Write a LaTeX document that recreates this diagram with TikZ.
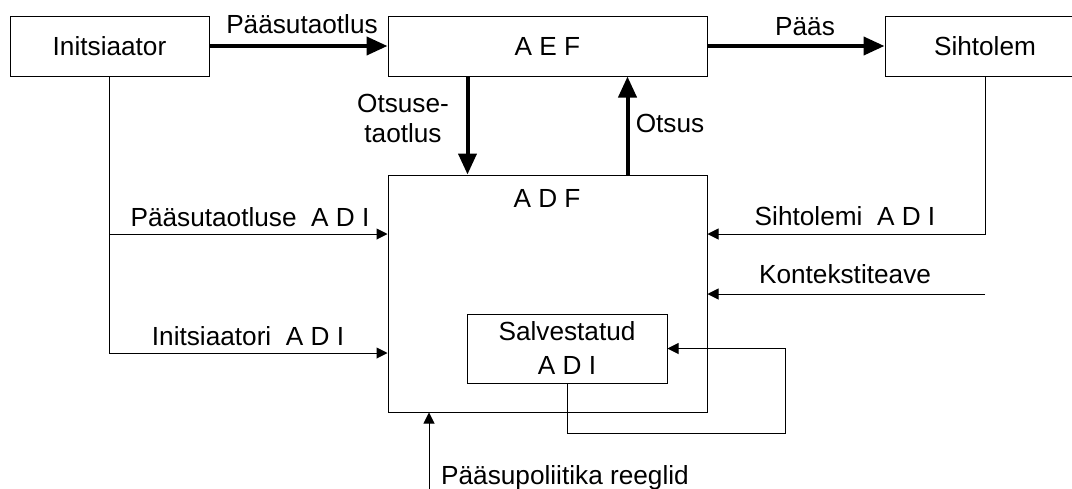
\documentclass[tikz,border=0pt]{standalone}
\usepackage{fontspec}
\setmainfont{Liberation Sans}
\usetikzlibrary{arrows.meta,calc}

\begin{document}
\begin{tikzpicture}[x=1pt,y=-1pt,
  every node/.style={font=\fontsize{26.2}{30}\selectfont},
  box/.style={draw, line width=1pt, inner sep=0pt},
  lbl/.style={inner sep=0pt, anchor=base},
  flow/.style={line width=4pt, -{Triangle[length=21pt,width=18pt]}},
  info/.style={line width=1pt, -{Triangle[length=11pt,width=11pt]}}]

\clip (0,0) rectangle (1072,488);
\fill[white] (0,0) rectangle (1072,488);

% main blocks
\node[box, minimum width=199pt, minimum height=60pt] (ini)  at (109.5,46) {Initsiaator};
\node[box, minimum width=319pt, minimum height=60pt] (aef)  at (547.5,46) {A E F};
\node[box, minimum width=200pt, minimum height=60pt] (siht) at (985,46)   {Sihtolem};
\node[box, minimum width=319pt, minimum height=237pt] (adf) at (547.5,293.5) {};
\node[lbl] (adft) at (547,207) {A D F};
\node[box, minimum width=200pt, minimum height=69pt, align=center,
      font=\fontsize{26.2}{34}\selectfont] (salv) at (567,348.5) {Salvestatud\\A D I};

% helper rows
\coordinate (ya)  at (0,234);
\coordinate (yb)  at (0,353);
\coordinate (ctx) at (985,294);
\coordinate (fb)  at (785,433);
\coordinate (pol) at (429,492);

% main access flow
\draw[flow] (ini.east) -- (aef.west);
\draw[flow] (aef.east) -- (siht.west);
\draw[flow] ($(aef.south west)!0.25!(aef.south east)$) -- ($(adf.north west)!0.25!(adf.north east)$);
\draw[flow] ($(adf.north west)!0.75!(adf.north east)$) -- ($(aef.south west)!0.75!(aef.south east)$);

% access decision information
\draw[info] (ini.south) |- (adf.west |- yb);
\draw[info] (ini.south |- ya) -- (adf.west |- ya);
\draw[info] (siht.south) |- (adf.east |- ya);
\draw[info] (ctx) -- (adf.east |- ctx);
\draw[info] (salv.south) |- (fb) |- (salv.east);
\draw[info] (pol) -- (adf.south -| pol);

% labels
\node[lbl] (l1) at (302,33) {Pääsutaotlus};
\node[lbl] (l2) at (805,35) {Pääs};
\node[align=center, inner sep=0pt] (l3) at (403,118) {Otsuse-\\taotlus};
\node[lbl] (l4) at (670,132) {Otsus};
\node[lbl] (l5) at (250,226) {Pääsutaotluse\ \ A D I};
\node[lbl] (l6) at (248,345) {Initsiaatori\ \ A D I};
\node[lbl] (l7) at (845,225) {Sihtolemi\ \ A D I};
\node[lbl] (l8) at (845,283) {Kontekstiteave};
\node[lbl, anchor=base west] (l9) at (441,484) {Pääsupoliitika reeglid};

\end{tikzpicture}
\end{document}
